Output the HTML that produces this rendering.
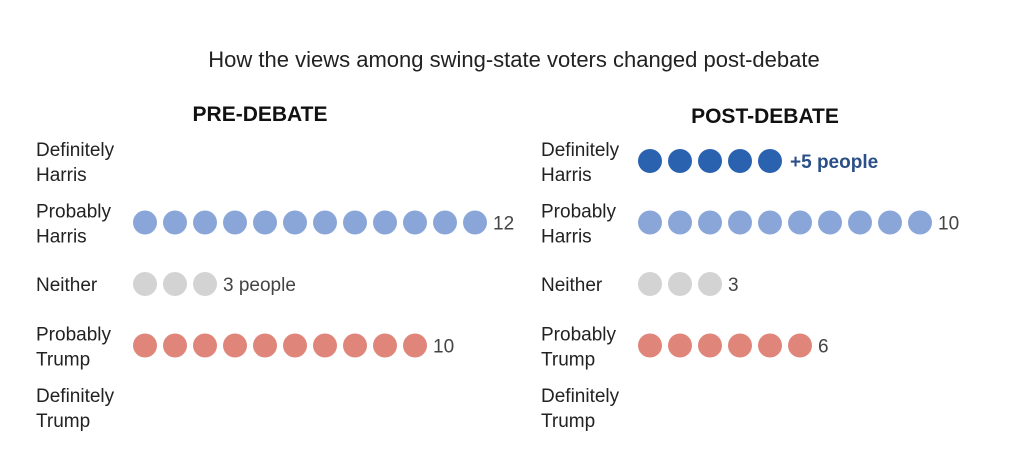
<!DOCTYPE html>
<html><head><meta charset="utf-8"><style>
body{margin:0;background:#fff;width:1018px;height:454px;overflow:hidden;font-family:"Liberation Sans",sans-serif}
svg text{font-family:"Liberation Sans",sans-serif}
</style></head><body>
<svg id="c" width="1018" height="454">
<text x="514" y="67" text-anchor="middle" font-size="22" fill="#222">How the views among swing-state voters changed post-debate</text>
<text x="260" y="121" text-anchor="middle" font-size="21" font-weight="bold" fill="#111">PRE-DEBATE</text>
<text x="765" y="123" text-anchor="middle" font-size="21" font-weight="bold" fill="#111">POST-DEBATE</text>
</svg>
<script>
const categories=[["Definitely","Harris"],["Probably","Harris"],["Neither"],["Probably","Trump"],["Definitely","Trump"]];
const preValues=[0,12,3,10,0];
const postValues=[5,10,3,6,0];
const preLabels=["","12","3 people","10",""];
const postLabels=["+5 people","10","3","6",""];
const colors=["#2a62b0","#8aa6d8","#d3d3d3","#e0857a","#c0392b"];
const svg=document.getElementById('c');
const NS="http://www.w3.org/2000/svg";
const rowY=i=>161+i*61.5;
const dotX=(x0,k)=>x0+k*30;
function mk(t,a){const e=document.createElementNS(NS,t);for(const k in a)e.setAttribute(k,a[k]);svg.appendChild(e);return e;}
function panel(lx,x0,vals,labs,name){
 categories.forEach((c,i)=>{
  const y=rowY(i);
  const t=mk('text',{x:lx,'font-size':19,fill:'#222'});
  
  
  if(c.length===1){t.setAttribute('y',y+7);t.textContent=c[0];}
  else{c.forEach((s,j)=>{const ts=document.createElementNS(NS,'tspan');ts.setAttribute('x',lx);ts.setAttribute('y',y-5+j*25);ts.textContent=s;t.appendChild(ts);});}
  for(let k=0;k<vals[i];k++){
   const d=mk('circle',{cx:dotX(x0,k),cy:y,r:12,fill:colors[i]});
   
   
  }
  if(labs[i]){
   const bold=(name==='post'&&i===0);
   const v=mk('text',{x:dotX(x0,vals[i])-12+(bold?2:0),y:y+7,'font-size':bold?19:19,'font-weight':bold?'bold':'normal',fill:bold?'#2b4f86':'#444'});
   
   
   v.textContent=labs[i];
  }
 });
}
panel(36,145,preValues,preLabels,'pre');
panel(541,650,postValues,postLabels,'post');
</script>
</body></html>
